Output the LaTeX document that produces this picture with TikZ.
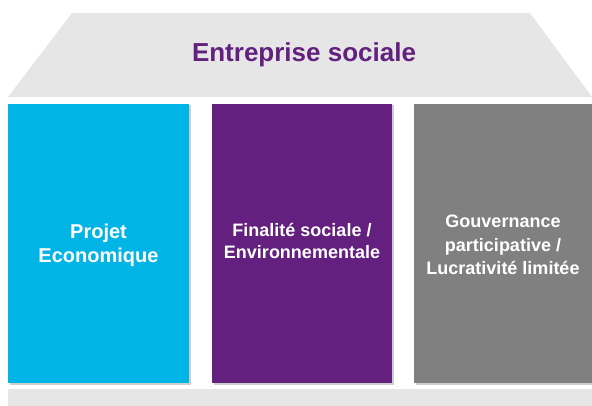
\documentclass[tikz,border=0pt]{standalone}
\usepackage{fontspec}
\setmainfont{Liberation Sans}
\definecolor{roofgray}{RGB}{230,230,230}
\definecolor{pblue}{RGB}{0,181,230}
\definecolor{ppurple}{RGB}{99,32,126}
\definecolor{pgray}{RGB}{128,128,128}
\definecolor{shadowc}{RGB}{205,205,205}
\begin{document}
\begin{tikzpicture}[x=1pt,y=-1pt,
  pillar/.style={minimum width=#1, inner sep=0pt},
  ptext/.style={text=white, font=\bfseries, align=center},
  shade/.style={fill=shadowc}]
\useasboundingbox (0,0) rectangle (592,406);
% roof
\fill[roofgray] (72,13) -- (530,13) -- (592,97) -- (8,97) -- cycle;
\node[text=ppurple, font=\fontsize{26}{30}\selectfont\bfseries] (title) at (304,55) {Entreprise sociale};
% base
\fill[roofgray] (8,389) rectangle (592,406);
% shadows
\fill[shade] (9.5,105.5) rectangle (190.5,384.5);
\fill[shade] (213.5,105.5) rectangle (393.5,384.5);
\fill[shade] (415.5,105.5) rectangle (592,384.5);
% pillars
\fill[pblue] (8,104) rectangle (189,383);
\fill[ppurple] (212,104) rectangle (392,383);
\fill[pgray] (414,104) rectangle (592,383);
\node[ptext, font=\fontsize{20}{24}\selectfont\bfseries] (p1) at (98.5,245) {Projet\\Economique};
\node[ptext, font=\fontsize{18}{21.5}\selectfont\bfseries] (p2) at (302,241) {Finalité sociale /\\Environnementale};
\node[ptext, font=\fontsize{18}{23.5}\selectfont\bfseries] (p3) at (503,245) {Gouvernance\\participative /\\Lucrativité limitée};
\end{tikzpicture}
\end{document}
